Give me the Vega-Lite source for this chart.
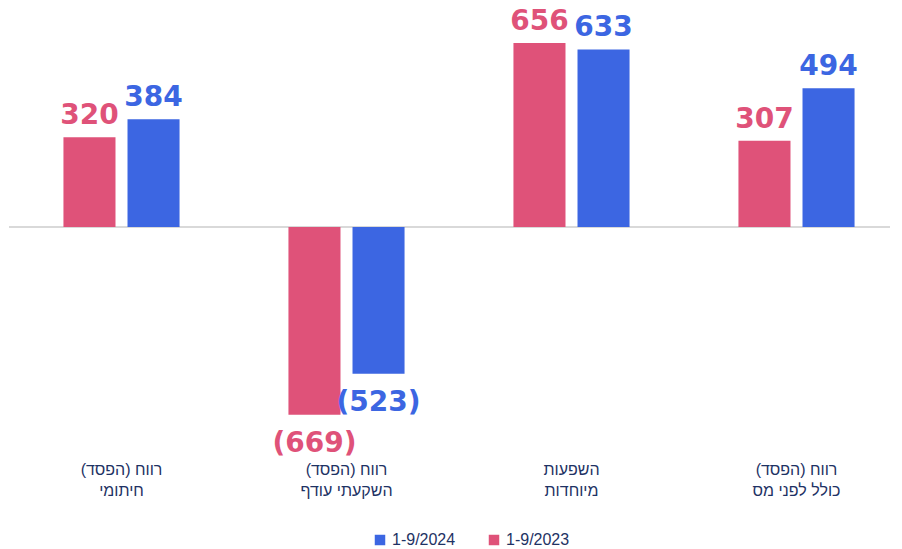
{
  "$schema": "https://vega.github.io/schema/vega-lite/v6.json",
  "width": 881,
  "height": 450,
  "autosize": "none",
  "padding": {"left": 9, "top": 0, "right": 12, "bottom": 99},
  "background": "white",
  "config": {"view": {"stroke": null}},
  "data": {
    "values": [
      {"cat": "רווח (הפסד)\u200f|חיתומי", "series": "1-9/2023", "value": 320, "label": "320"},
      {"cat": "רווח (הפסד)\u200f|חיתומי", "series": "1-9/2024", "value": 384, "label": "384"},
      {"cat": "רווח (הפסד)\u200f|השקעתי עודף", "series": "1-9/2023", "value": -669, "label": "(669)"},
      {"cat": "רווח (הפסד)\u200f|השקעתי עודף", "series": "1-9/2024", "value": -523, "label": "(523)"},
      {"cat": "השפעות|מיוחדות", "series": "1-9/2023", "value": 656, "label": "656"},
      {"cat": "השפעות|מיוחדות", "series": "1-9/2024", "value": 633, "label": "633"},
      {"cat": "רווח (הפסד)\u200f|כולל לפני מס", "series": "1-9/2023", "value": 307, "label": "307"},
      {"cat": "רווח (הפסד)\u200f|כולל לפני מס", "series": "1-9/2024", "value": 494, "label": "494"}
    ]
  },
  "layer": [
    {
      "mark": {"type": "rule", "color": "#D9D9D9", "strokeWidth": 2},
      "encoding": {"y": {"datum": 0, "type": "quantitative", "scale": {"domain": [-795, 809], "nice": false, "zero": false}, "axis": null}}
    },
    {
      "mark": {"type": "bar"},
      "encoding": {
        "x": {"field": "cat", "type": "nominal", "sort": null,
          "scale": {"range": [0, 900], "paddingInner": 0, "paddingOuter": 0},
          "axis": {"title": null, "orient": "bottom", "domain": false, "ticks": false, "labelAngle": 0,
            "labelPadding": 11, "labelFontSize": 16, "labelColor": "#1E3264", "labelFont": "Liberation Sans",
            "labelExpr": "split(datum.label, '|')", "labelLineHeight": 21, "labelOverlap": false}},
        "xOffset": {"field": "series", "type": "nominal", "sort": ["1-9/2023", "1-9/2024"],
          "scale": {"paddingInner": 0.1875, "paddingOuter": 0.85}},
        "y": {"field": "value", "type": "quantitative", "scale": {"domain": [-795, 809], "nice": false, "zero": false}, "axis": null},
        "color": {"field": "series", "type": "nominal",
          "scale": {"domain": ["1-9/2024", "1-9/2023"], "range": ["#3C66E2", "#DF5279"]},
          "legend": {"title": null, "orient": "none", "legendX": 363, "legendY": 532, "direction": "horizontal",
            "symbolType": "square", "symbolSize": 110, "symbolStrokeWidth": 0, "labelFontSize": 16, "labelColor": "#1E3264",
            "labelFont": "Liberation Sans", "labelOffset": 4, "columnPadding": 30}}
      }
    },
    {
      "transform": [{"filter": "datum.value >= 0"}],
      "mark": {"type": "text", "font": "DejaVu Sans", "fontWeight": "bold", "fontSize": 28, "baseline": "alphabetic", "dy": -13},
      "encoding": {
        "x": {"field": "cat", "type": "nominal", "sort": null},
        "xOffset": {"field": "series", "type": "nominal", "sort": ["1-9/2023", "1-9/2024"]},
        "y": {"field": "value", "type": "quantitative"},
        "text": {"field": "label"},
        "color": {"field": "series", "type": "nominal", "legend": null}
      }
    },
    {
      "transform": [{"filter": "datum.value < 0"}],
      "mark": {"type": "text", "font": "DejaVu Sans", "fontWeight": "bold", "fontSize": 28, "baseline": "top", "dy": 15},
      "encoding": {
        "x": {"field": "cat", "type": "nominal", "sort": null},
        "xOffset": {"field": "series", "type": "nominal", "sort": ["1-9/2023", "1-9/2024"]},
        "y": {"field": "value", "type": "quantitative"},
        "text": {"field": "label"},
        "color": {"field": "series", "type": "nominal", "legend": null}
      }
    }
  ]
}
